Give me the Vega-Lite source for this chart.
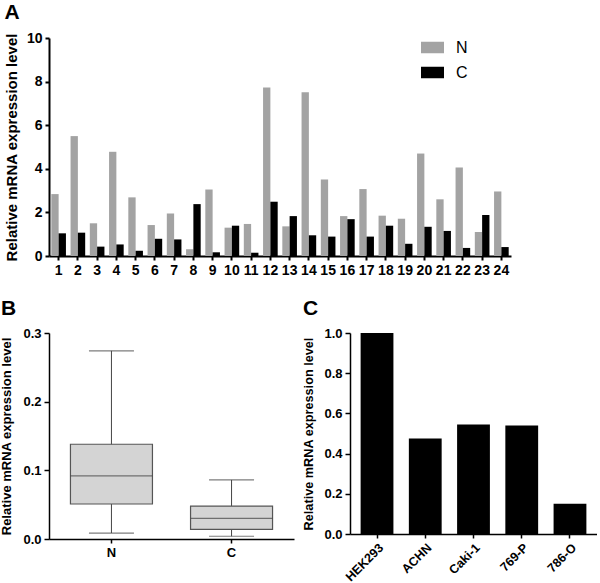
{
  "$schema": "https://vega.github.io/schema/vega-lite/v6.json",
  "background": "white",
  "padding": {"left": 0, "top": 2, "right": 0, "bottom": 0},
  "config": {
    "font": "Liberation Sans",
    "view": {"stroke": null},
    "axis": {
      "domainColor": "black", "domainWidth": 2, "tickColor": "black", "tickWidth": 2, "tickSize": 4,
      "labelColor": "black", "titleColor": "black", "labelFontWeight": "bold", "titleFontWeight": "bold",
      "grid": false, "labelPadding": 3, "titlePadding": 6
    },
    "title": {"anchor": "start", "fontSize": 21, "fontWeight": "bold", "color": "black", "offset": 8}
  },
  "spacing": 21,
  "vconcat": [
    {
      "title": "A",
      "width": 462,
      "height": 218,
      "data": {"values": [
        {"sample": 1, "group": "N", "value": 2.84}, {"sample": 1, "group": "C", "value": 1.04},
        {"sample": 2, "group": "N", "value": 5.5}, {"sample": 2, "group": "C", "value": 1.07},
        {"sample": 3, "group": "N", "value": 1.5}, {"sample": 3, "group": "C", "value": 0.43},
        {"sample": 4, "group": "N", "value": 4.78}, {"sample": 4, "group": "C", "value": 0.53},
        {"sample": 5, "group": "N", "value": 2.69}, {"sample": 5, "group": "C", "value": 0.24},
        {"sample": 6, "group": "N", "value": 1.42}, {"sample": 6, "group": "C", "value": 0.79},
        {"sample": 7, "group": "N", "value": 1.95}, {"sample": 7, "group": "C", "value": 0.76},
        {"sample": 8, "group": "N", "value": 0.31}, {"sample": 8, "group": "C", "value": 2.38},
        {"sample": 9, "group": "N", "value": 3.05}, {"sample": 9, "group": "C", "value": 0.17},
        {"sample": 10, "group": "N", "value": 1.3}, {"sample": 10, "group": "C", "value": 1.39},
        {"sample": 11, "group": "N", "value": 1.47}, {"sample": 11, "group": "C", "value": 0.15},
        {"sample": 12, "group": "N", "value": 7.73}, {"sample": 12, "group": "C", "value": 2.49},
        {"sample": 13, "group": "N", "value": 1.36}, {"sample": 13, "group": "C", "value": 1.83},
        {"sample": 14, "group": "N", "value": 7.51}, {"sample": 14, "group": "C", "value": 0.95},
        {"sample": 15, "group": "N", "value": 3.51}, {"sample": 15, "group": "C", "value": 0.89},
        {"sample": 16, "group": "N", "value": 1.83}, {"sample": 16, "group": "C", "value": 1.69},
        {"sample": 17, "group": "N", "value": 3.07}, {"sample": 17, "group": "C", "value": 0.89},
        {"sample": 18, "group": "N", "value": 1.85}, {"sample": 18, "group": "C", "value": 1.39},
        {"sample": 19, "group": "N", "value": 1.71}, {"sample": 19, "group": "C", "value": 0.56},
        {"sample": 20, "group": "N", "value": 4.7}, {"sample": 20, "group": "C", "value": 1.34},
        {"sample": 21, "group": "N", "value": 2.6}, {"sample": 21, "group": "C", "value": 1.15},
        {"sample": 22, "group": "N", "value": 4.06}, {"sample": 22, "group": "C", "value": 0.37},
        {"sample": 23, "group": "N", "value": 1.1}, {"sample": 23, "group": "C", "value": 1.88},
        {"sample": 24, "group": "N", "value": 2.96}, {"sample": 24, "group": "C", "value": 0.41}
      ]},
      "mark": {"type": "bar"},
      "encoding": {
        "x": {"field": "sample", "type": "ordinal", "scale": {"paddingInner": 0.24, "paddingOuter": 0.12},
              "axis": {"title": null, "labelAngle": 0, "labelFontSize": 14, "labelPadding": 3}},
        "xOffset": {"field": "group", "sort": ["N", "C"], "scale": {"paddingInner": 0, "paddingOuter": 0}},
        "y": {"field": "value", "type": "quantitative", "scale": {"domain": [0, 10]},
              "axis": {"title": "Relative mRNA expression level", "values": [0, 2, 4, 6, 8, 10], "labelFontSize": 14, "titleFontSize": 15, "titlePadding": 7}},
        "color": {"field": "group", "type": "nominal", "sort": ["N", "C"],
                  "scale": {"domain": ["N", "C"], "range": ["#a3a3a3", "#000000"]},
                  "legend": {"title": null, "orient": "none", "legendX": 372, "legendY": -2, "padding": 0,
                             "symbolType": "M-1,-0.5H1V0.5H-1Z", "symbolSize": 529, "symbolStrokeWidth": 0,
                             "symbolOpacity": 1, "labelFontSize": 16, "labelOffset": 12, "rowPadding": 5, "labelColor": "black"}}
      }
    },
    {
      "spacing": 8,
      "hconcat": [
        {
          "title": "B",
          "width": 245,
          "height": 206,
          "data": {"values": [
            {"group": "N", "min": 0.0087, "q1": 0.051, "median": 0.092, "q3": 0.138, "max": 0.274},
            {"group": "C", "min": 0.004, "q1": 0.014, "median": 0.030, "q3": 0.048, "max": 0.086}
          ]},
          "encoding": {
            "x": {"field": "group", "type": "nominal", "sort": ["N", "C"], "scale": {"paddingInner": 0.3, "paddingOuter": 0.17},
                  "axis": {"title": null, "labelAngle": 0, "labelFontSize": 13, "domainWidth": 1.5, "tickWidth": 1.5, "tickSize": 4}}
          },
          "layer": [
            {
              "mark": {"type": "rule", "color": "#444444", "strokeWidth": 1},
              "encoding": {
                "y": {"field": "min", "type": "quantitative", "scale": {"domain": [0, 0.3]},
                      "axis": {"title": "Relative mRNA expression level", "values": [0, 0.1, 0.2, 0.3], "format": ".1f",
                               "labelFontSize": 13, "titleFontSize": 13, "domainWidth": 1.5, "tickWidth": 1.5, "tickSize": 5, "labelPadding": 3, "titlePadding": 9}},
                "y2": {"field": "max"}
              }
            },
            {
              "mark": {"type": "bar", "size": 82, "fill": "#d4d4d4", "stroke": "#555555", "strokeWidth": 1.2},
              "encoding": {"y": {"field": "q1", "type": "quantitative"}, "y2": {"field": "q3"}}
            },
            {
              "mark": {"type": "tick", "size": 82, "thickness": 1.2, "color": "#444444"},
              "encoding": {"y": {"field": "median", "type": "quantitative"}}
            },
            {
              "mark": {"type": "tick", "size": 45, "thickness": 1.2, "color": "#444444"},
              "encoding": {"y": {"field": "min", "type": "quantitative"}}
            },
            {
              "mark": {"type": "tick", "size": 45, "thickness": 1.2, "color": "#444444"},
              "encoding": {"y": {"field": "max", "type": "quantitative"}}
            }
          ]
        },
        {
          "title": "C",
          "width": 247,
          "height": 201,
          "data": {"values": [
            {"line": "HEK293", "value": 1.0},
            {"line": "ACHN", "value": 0.475},
            {"line": "Caki-1", "value": 0.545},
            {"line": "769-P", "value": 0.54},
            {"line": "786-O", "value": 0.15}
          ]},
          "mark": {"type": "bar", "color": "black"},
          "encoding": {
            "x": {"field": "line", "type": "nominal", "sort": null, "scale": {"paddingInner": 0.32, "paddingOuter": 0.22},
                  "axis": {"title": null, "labelAngle": -45, "labelFontSize": 12.5, "domainWidth": 1.5, "tickWidth": 1.5, "tickSize": 4}},
            "y": {"field": "value", "type": "quantitative", "scale": {"domain": [0, 1]},
                  "axis": {"title": "Relative mRNA expression level", "values": [0, 0.2, 0.4, 0.6, 0.8, 1.0], "format": ".1f",
                           "labelFontSize": 13, "titleFontSize": 12.7, "domainWidth": 1.5, "tickWidth": 1.5, "tickSize": 5, "titlePadding": 8}}
          }
        }
      ]
    }
  ]
}
